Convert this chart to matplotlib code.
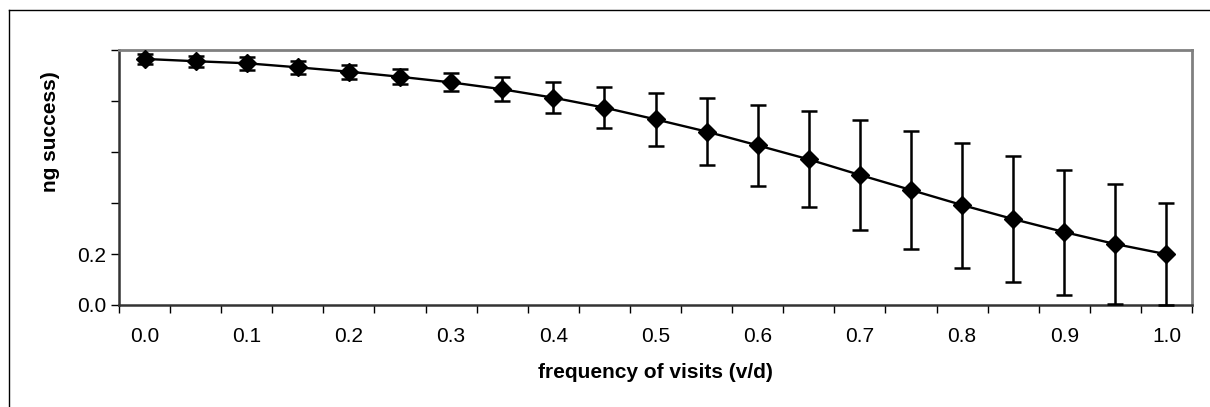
import matplotlib.pyplot as plt
import numpy as np
from matplotlib.lines import Line2D

plt.rcParams['font.family'] = ['Liberation Sans', 'DejaVu Sans']

# frequency of visits (v/d), one category each
freq = [0.00, 0.05, 0.10, 0.15, 0.20, 0.25, 0.30, 0.35, 0.40, 0.45, 0.50,
        0.55, 0.60, 0.65, 0.70, 0.75, 0.80, 0.85, 0.90, 0.95, 1.00]
success = [0.965, 0.956, 0.948, 0.932, 0.915, 0.895, 0.873, 0.846, 0.813, 0.774, 0.728,
           0.680, 0.626, 0.571, 0.510, 0.451, 0.392, 0.337, 0.286, 0.239, 0.199]
err = [0.019, 0.021, 0.025, 0.026, 0.028, 0.030, 0.035, 0.047, 0.061, 0.080, 0.105,
       0.131, 0.160, 0.188, 0.215, 0.232, 0.245, 0.248, 0.245, 0.236, 0.200]
ytick_vals = [0.0, 0.2, 0.4, 0.6, 0.8, 1.0]
ytick_labels = ['0.0', '0.2', '', '', '', '']

fig = plt.figure(figsize=(12.1, 4.07), dpi=100)
ax = fig.add_axes([119/1210, 1-305/407, (1192-119)/1210, (305-50)/407])

# outer chart frame (only top and left are inside the picture)
fig.add_artist(Line2D([9/1210, 9/1210], [0, 1-10/407], color='black', lw=1,
                      transform=fig.transFigure))
fig.add_artist(Line2D([9/1210, 1], [1-10/407, 1-10/407], color='black', lw=1,
                      transform=fig.transFigure))

pos = np.arange(len(freq))
ax.errorbar(pos, success, yerr=err, color='black', lw=1.7, marker='D', ms=9.5,
            ecolor='black', elinewidth=1.8, capsize=6, capthick=1.8, clip_on=False,
            zorder=3)

ax.set_xlim(-0.5, len(freq) - 0.5)
ax.set_ylim(0, 1.0)

# category boundaries get tick marks, labels at every other category
ax.set_xticks(np.arange(-0.5, len(freq), 1.0))
ax.set_xticklabels([])
ax.set_xticks(pos[::2], minor=True)
ax.set_xticklabels(['%.1f' % f for f in freq[::2]], minor=True)
ax.tick_params(axis='x', which='major', direction='out', length=6, width=1, color='black')
ax.tick_params(axis='x', which='minor', length=0, pad=16, labelsize=15)

ax.set_yticks(ytick_vals)
ax.set_yticklabels(ytick_labels)
ax.tick_params(axis='y', direction='out', length=6, width=1, labelsize=15, pad=3)

for s in ['top', 'right']:
    ax.spines[s].set_color('#808080')
    ax.spines[s].set_linewidth(2)
for s in ['left', 'bottom']:
    ax.spines[s].set_color('#333333')
    ax.spines[s].set_linewidth(1.8)

ax.set_xlabel('frequency of visits (v/d)', fontsize=15, fontweight='bold', labelpad=12)
fig.text(51/1210, 1-132/407, 'ng success)', rotation=90, fontsize=15,
         fontweight='bold', ha='center', va='center')

fig.savefig('out.png', dpi=100)
